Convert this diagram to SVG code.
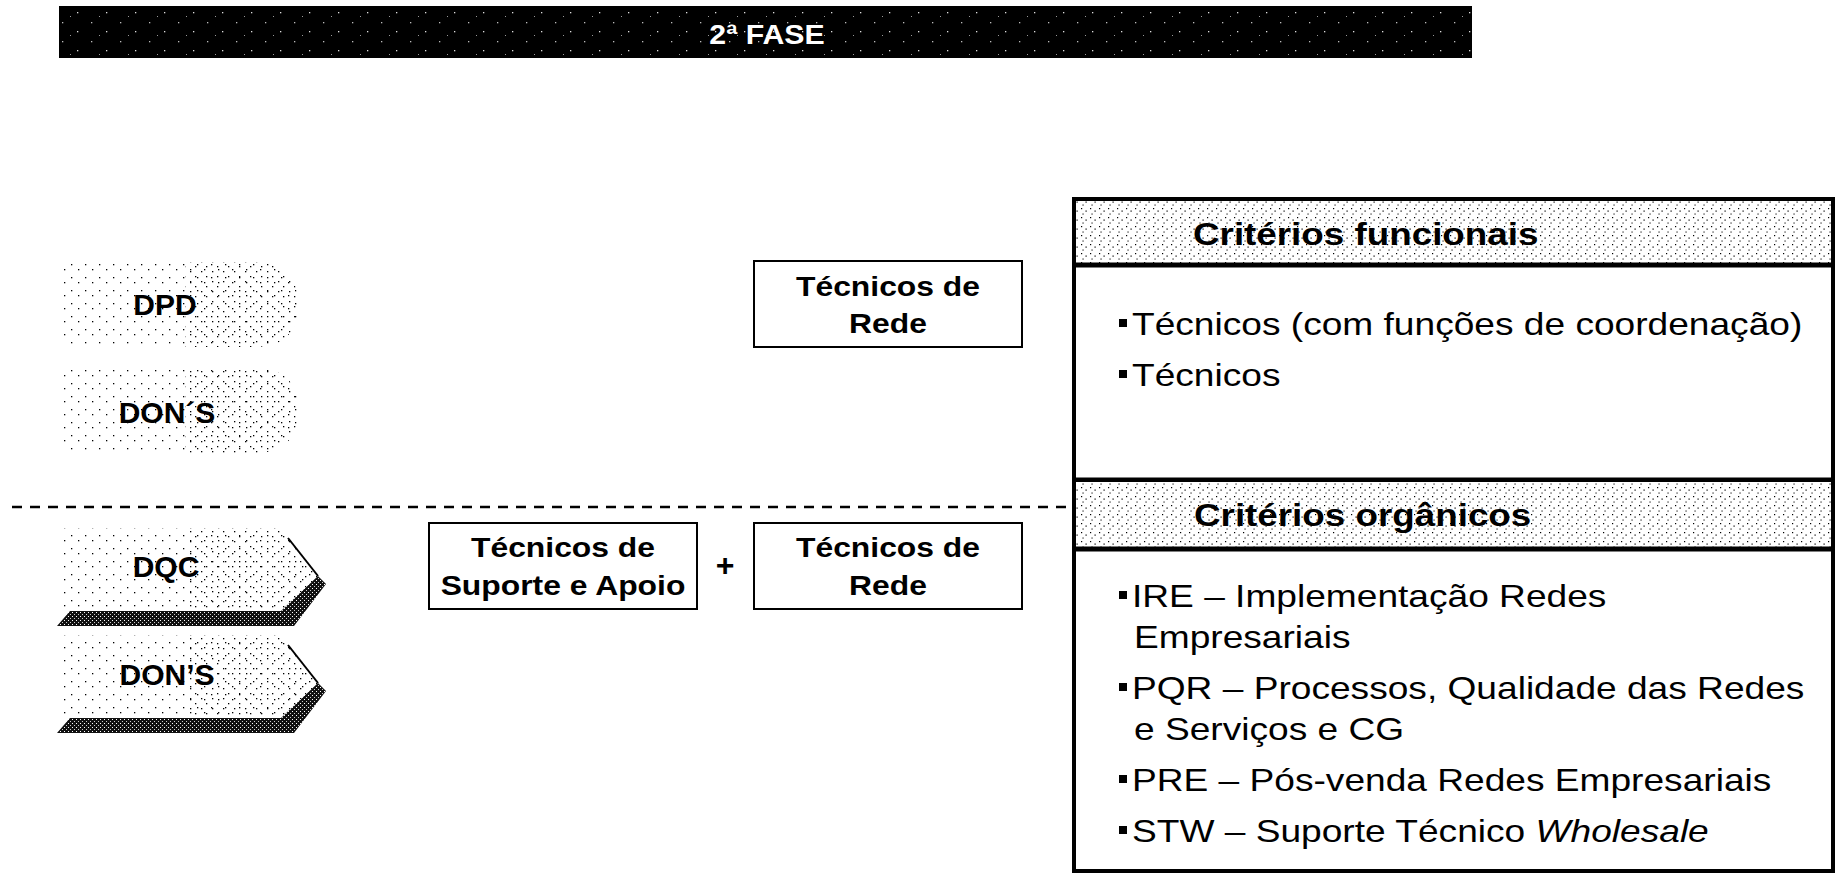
<svg xmlns="http://www.w3.org/2000/svg" width="1838" height="875" viewBox="0 0 1838 875">
  <style>
    .b { font-family: "Liberation Sans", Arial, sans-serif; font-weight: bold; fill: #000; }
    .r { font-family: "Liberation Sans", Arial, sans-serif; fill: #000; }
    .box { fill: #fff; stroke: #000; stroke-width: 2; }
    .bul { fill: #000; }
  </style>
  <defs>
    <pattern id="specks" width="29" height="19" patternUnits="userSpaceOnUse">
      <rect width="29" height="19" fill="#000"/>
      <rect x="4" y="3" width="1.3" height="1.3" fill="#bbb"/>
      <rect x="19" y="12" width="1.3" height="1.3" fill="#ddd"/>
      <rect x="12" y="16" width="1" height="1" fill="#999"/>
    </pattern>
    <pattern id="dense" width="9" height="9" patternUnits="userSpaceOnUse">
      <rect width="9" height="9" fill="#fff"/>
      <rect x="1" y="1" width="1.2" height="1.2" fill="#000"/>
      <rect x="5.5" y="3.5" width="1.2" height="1.2" fill="#000"/>
      <rect x="2.5" y="6.5" width="1.1" height="1.1" fill="#000"/>
    </pattern>
    <pattern id="light" width="14" height="13" patternUnits="userSpaceOnUse">
      <rect x="1" y="2" width="1.3" height="1.3" fill="#000"/>
      <rect x="8" y="7" width="1.3" height="1.3" fill="#000"/>
    </pattern>
    <pattern id="light2" width="11" height="10" patternUnits="userSpaceOnUse">
      <rect x="3" y="1" width="1.3" height="1.3" fill="#000"/>
      <rect x="8" y="6" width="1.3" height="1.3" fill="#000"/>
    </pattern>
    <pattern id="hatch" width="4" height="4" patternUnits="userSpaceOnUse">
      <rect width="4" height="4" fill="#111"/>
      <rect x="0" y="0" width="1" height="1" fill="#fff"/>
      <rect x="2" y="2" width="1" height="1" fill="#ccc"/>
    </pattern>
    <g id="chev">
      <polygon points="60,528 280,528 318,576 281,611 60,611" fill="url(#light)"/>
      <polygon points="190,528 280,528 318,576 281,611 190,611" fill="url(#light2)"/>
      <line x1="288" y1="538" x2="318" y2="576" stroke="#000" stroke-width="2"/>
      <polygon points="57,626 70,611 281,611 318,576 326,584 294,626" fill="url(#hatch)"/>
    </g>
    <path id="blob" d="M70 0 H255 Q298 0 298 42 Q298 85 255 85 H70 Q60 85 60 42 Q60 0 70 0 Z"/>
  </defs>

  <g id="title-bar">
    <rect x="59" y="6" width="1413" height="52" fill="url(#specks)"/>
    <text class="b" transform="translate(767,44) scale(1.08,1)" text-anchor="middle" font-size="28" style="fill:#fff">2ª FASE</text>
  </g>

  <g id="node-dpd">
    <use href="#blob" transform="translate(0,262)" fill="url(#light)"/>
    <path d="M185 262 H255 Q298 262 298 304 Q298 347 255 347 H185 Z" fill="url(#light2)"/>
    <text class="b" x="165" y="315" text-anchor="middle" font-size="30">DPD</text>
  </g>
  <g id="node-dons-top">
    <use href="#blob" transform="translate(0,368)" fill="url(#light)"/>
    <path d="M185 368 H255 Q298 368 298 410 Q298 453 255 453 H185 Z" fill="url(#light2)"/>
    <text class="b" x="167" y="423" text-anchor="middle" font-size="30">DON´S</text>
  </g>

  <g id="separator">
    <line x1="12" y1="507" x2="1073" y2="507" stroke="#000" stroke-width="2.5" stroke-dasharray="10 8"/>
  </g>

  <g id="node-dqc">
    <use href="#chev"/>
    <text class="b" x="166" y="577" text-anchor="middle" font-size="30">DQC</text>
  </g>
  <g id="node-dons-bottom">
    <use href="#chev" transform="translate(0,107)"/>
    <text class="b" x="167" y="685" text-anchor="middle" font-size="30">DON’S</text>
  </g>

  <g id="node-tecnicos-rede-top">
    <rect class="box" x="754" y="261" width="268" height="86"/>
    <text class="b" transform="translate(888,296) scale(1.18,1)" text-anchor="middle" font-size="27">Técnicos de</text>
    <text class="b" transform="translate(888,333) scale(1.18,1)" text-anchor="middle" font-size="27">Rede</text>
  </g>

  <g id="node-tecnicos-suporte">
    <rect class="box" x="429" y="523" width="268" height="86"/>
    <text class="b" transform="translate(563,557) scale(1.18,1)" text-anchor="middle" font-size="27">Técnicos de</text>
    <text class="b" transform="translate(563,595) scale(1.18,1)" text-anchor="middle" font-size="27">Suporte e Apoio</text>
  </g>

  <g id="plus">
    <text class="b" x="725" y="576" text-anchor="middle" font-size="32">+</text>
  </g>

  <g id="node-tecnicos-rede-bottom">
    <rect class="box" x="754" y="523" width="268" height="86"/>
    <text class="b" transform="translate(888,557) scale(1.18,1)" text-anchor="middle" font-size="27">Técnicos de</text>
    <text class="b" transform="translate(888,595) scale(1.18,1)" text-anchor="middle" font-size="27">Rede</text>
  </g>

  <g id="criteria-panel">
    <rect x="1074" y="199" width="759" height="672" fill="#fff" stroke="#000" stroke-width="4"/>
    <rect x="1076" y="201" width="755" height="62" fill="url(#dense)"/>
    <line x1="1074" y1="265" x2="1833" y2="265" stroke="#000" stroke-width="5"/>
    <text class="b" transform="translate(1193,245) scale(1.15,1)" font-size="32">Critérios funcionais</text>

    <rect class="bul" x="1119" y="319" width="8" height="8"/>
    <text class="r" transform="translate(1132,335) scale(1.16,1)" font-size="32">Técnicos (com funções de coordenação)</text>
    <rect class="bul" x="1119" y="370" width="8" height="8"/>
    <text class="r" transform="translate(1132,386) scale(1.16,1)" font-size="32">Técnicos</text>

    <line x1="1074" y1="480" x2="1833" y2="480" stroke="#000" stroke-width="5"/>
    <rect x="1076" y="482" width="755" height="65" fill="url(#dense)"/>
    <line x1="1074" y1="549" x2="1833" y2="549" stroke="#000" stroke-width="5"/>
    <text class="b" transform="translate(1194,526) scale(1.15,1)" font-size="32">Critérios orgânicos</text>

    <rect class="bul" x="1119" y="591" width="8" height="8"/>
    <text class="r" transform="translate(1132,607) scale(1.16,1)" font-size="32">IRE – Implementação Redes</text>
    <text class="r" transform="translate(1134,648) scale(1.16,1)" font-size="32">Empresariais</text>
    <rect class="bul" x="1119" y="683" width="8" height="8"/>
    <text class="r" transform="translate(1132,699) scale(1.16,1)" font-size="32">PQR – Processos, Qualidade das Redes</text>
    <text class="r" transform="translate(1134,740) scale(1.16,1)" font-size="32">e Serviços e CG</text>
    <rect class="bul" x="1119" y="775" width="8" height="8"/>
    <text class="r" transform="translate(1132,791) scale(1.16,1)" font-size="32">PRE – Pós-venda Redes Empresariais</text>
    <rect class="bul" x="1119" y="826" width="8" height="8"/>
    <text class="r" transform="translate(1132,842) scale(1.16,1)" font-size="32">STW – Suporte Técnico <tspan font-style="italic">Wholesale</tspan></text>
  </g>

  <g id="connectors"></g>
</svg>
